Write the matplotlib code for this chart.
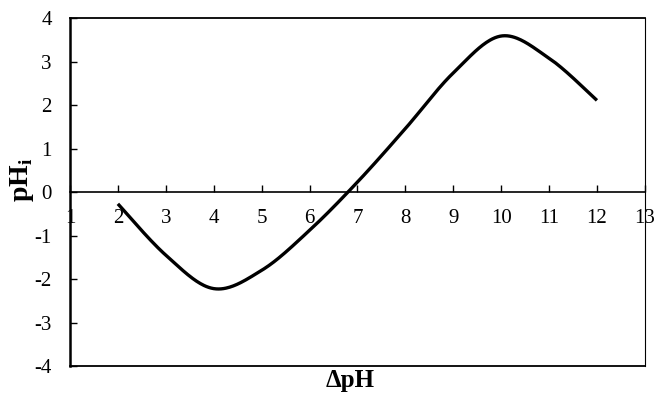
import numpy as np
import matplotlib
matplotlib.use("Agg")
import matplotlib.pyplot as plt

# Data
delta_ph = [2, 3, 4, 5, 6, 7, 8, 9, 10, 11, 12]
ph_i = [-0.27, -1.45, -2.22, -1.80, -0.88, 0.23, 1.46, 2.74, 3.59, 3.08, 2.11]
x_ticks = list(range(1, 14))
y_ticks = list(range(-4, 5))


def smooth_curve(xs, ys, n=40):
    """Cubic Bezier smoothing through the points (Catmull-Rom style)."""
    xs = np.asarray(xs, float)
    ys = np.asarray(ys, float)
    px = np.concatenate([[xs[0]], xs, [xs[-1]]])
    py = np.concatenate([[ys[0]], ys, [ys[-1]]])
    out_x, out_y = [], []
    t = np.linspace(0, 1, n)
    for i in range(1, len(px) - 2):
        p0 = np.array([px[i], py[i]])
        p3 = np.array([px[i + 1], py[i + 1]])
        c1 = p0 + (np.array([px[i + 1], py[i + 1]]) - np.array([px[i - 1], py[i - 1]])) / 6
        c2 = p3 - (np.array([px[i + 2], py[i + 2]]) - np.array([px[i], py[i]])) / 6
        b = ((1 - t) ** 3)[:, None] * p0 + (3 * (1 - t) ** 2 * t)[:, None] * c1 \
            + (3 * (1 - t) * t ** 2)[:, None] * c2 + (t ** 3)[:, None] * p3
        out_x.extend(b[:, 0])
        out_y.extend(b[:, 1])
    return np.array(out_x), np.array(out_y)


plt.rcParams['font.family'] = ['Liberation Serif', 'DejaVu Serif']
plt.rcParams['axes.unicode_minus'] = False
plt.rcParams['mathtext.fontset'] = 'custom'
plt.rcParams['mathtext.bf'] = 'Liberation Serif:bold'
plt.rcParams['mathtext.rm'] = 'Liberation Serif'

fig = plt.figure(figsize=(6.54, 3.93), dpi=100)
ax = fig.add_axes([0.107, 0.0687, 0.879, 0.885])

sx, sy = smooth_curve(delta_ph, ph_i)
ax.plot(sx, sy, color='black', lw=2.4, solid_capstyle='butt', zorder=3)

ax.set_xlim(1, 13)
ax.set_ylim(-4, 4)
ax.set_xticks(x_ticks)
ax.set_yticks(y_ticks)

# x axis runs through zero; frame closes the plot area
ax.spines['bottom'].set_position(('data', 0))
ax.spines['bottom'].set_linewidth(1.2)
ax.spines['left'].set_linewidth(1.8)
ax.spines['top'].set_linewidth(1.3)
ax.spines['right'].set_linewidth(0.8)
ax.axhline(-4, color='black', lw=1.3, clip_on=False, zorder=2.6)

ax.tick_params(axis='x', direction='in', length=5, width=1.0, pad=12,
               labelsize=15)
ax.tick_params(axis='y', direction='in', length=5, width=1.0, pad=13,
               labelsize=15)
ax.tick_params(top=False, right=False)

fig.text(350 / 654, 1 - 381 / 393, 'ΔpH', fontsize=18, fontweight='bold',
         ha='center', va='center')
fig.text(22 / 654, 1 - 180 / 393, r'pH$_\mathbf{i}$', fontsize=20,
         fontweight='bold', rotation=90, ha='center', va='center')

fig.savefig('out.png', dpi=100)
